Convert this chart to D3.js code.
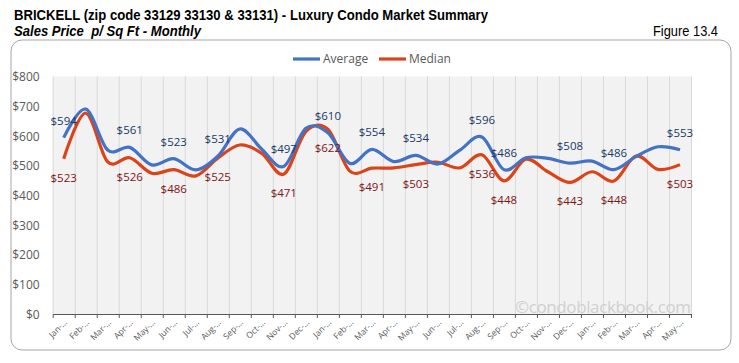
<!doctype html>
<html>
<head>
<meta charset="UTF-8">
<script src="https://cdn.jsdelivr.net/npm/d3@7"></script>
<style>
    body { margin:0; background:#fff; }
    .title { font-family: "Liberation Sans Narrow", "Arial Narrow", "Liberation Sans", sans-serif; fill:#000; white-space: pre; }
    .tick-label { font-family: "Open Sans", "Noto Sans", sans-serif; fill:#595959; }
    .val { font-family: "Open Sans", "Noto Sans", sans-serif; font-size: 11.5px; text-anchor: middle; }
</style>
</head>
<body>
<script>
    // months along the x axis (Jan .. May of the third year)
    var months = ["Jan","Feb","Mar","Apr","May","Jun","Jul","Aug","Sep","Oct","Nov","Dec",
                  "Jan","Feb","Mar","Apr","May","Jun","Jul","Aug","Sep","Oct","Nov","Dec",
                  "Jan","Feb","Mar","Apr","May"];
    var average = [594, 690, 552, 561, 502, 523, 485, 531, 623, 555, 497, 625, 610, 507, 554,
                   513, 534, 505, 552, 596, 486, 526, 524, 508, 515, 486, 530, 563, 553];
    var median  = [523, 676, 512, 526, 474, 486, 465, 525, 569, 541, 471, 614, 622, 481, 491,
                   492, 503, 511, 492, 536, 448, 521, 479, 443, 479, 448, 532, 487, 503];
    // months that carry a value label
    var labelled = [0, 3, 5, 7, 10, 12, 14, 16, 19, 20, 23, 25, 28];
    var yTicks = [0, 100, 200, 300, 400, 500, 600, 700, 800];

    var W = 739, H = 363;
    var plot = { left: 52.7, right: 691, top: 76.4, bottom: 314 };

    var svg = d3.select("body").append("svg")
        .attr("width", W).attr("height", H);

    // titles (squeezed to the narrow widths of the original)
    svg.append("text").attr("class", "title")
        .attr("x", 14).attr("y", 20)
        .attr("textLength", 474).attr("lengthAdjust", "spacingAndGlyphs")
        .style("font-size", "15px").style("font-weight", "bold")
        .text("BRICKELL (zip code 33129 33130 & 33131) - Luxury Condo Market Summary");
    svg.append("text").attr("class", "title")
        .attr("x", 14).attr("y", 36)
        .attr("textLength", 187).attr("lengthAdjust", "spacingAndGlyphs")
        .style("font-size", "15px").style("font-weight", "bold").style("font-style", "italic")
        .text("Sales Price  p/ Sq Ft - Monthly");
    svg.append("text").attr("class", "title")
        .attr("x", 653).attr("y", 36)
        .attr("textLength", 65).attr("lengthAdjust", "spacingAndGlyphs")
        .style("font-size", "14.5px")
        .text("Figure 13.4");

    // chart frame
    svg.append("rect")
        .attr("x", 11).attr("y", 40).attr("width", 720).attr("height", 310)
        .attr("rx", 11).attr("ry", 11)
        .style("fill", "#fff").style("stroke", "#a6a6a6").style("stroke-width", 1);

    var n = months.length;
    var x = d3.scaleBand().domain(d3.range(n)).range([plot.left, plot.right]);
    var xb = d3.scaleLinear().domain([0, n]).range([plot.left, plot.right]);
    var y = d3.scaleLinear().domain([0, 800]).range([plot.bottom, plot.top]);
    var cx = function (i) { return x(i) + x.bandwidth() / 2; };

    // plot background
    svg.append("rect")
        .attr("x", plot.left).attr("y", plot.top)
        .attr("width", plot.right - plot.left).attr("height", plot.bottom - plot.top)
        .style("fill", "#f2f2f2");

    // vertical grid lines between categories
    svg.append("g")
        .attr("transform", "translate(0," + plot.bottom + ")")
        .call(d3.axisBottom(xb).tickValues(d3.range(n + 1)).tickSize(-(plot.bottom - plot.top)).tickFormat(""))
        .call(function (g) { g.select(".domain").remove(); })
        .call(function (g) { g.selectAll("line").style("stroke", "#d9d9d9"); });

    // x axis line with small ticks
    svg.append("g")
        .attr("transform", "translate(0," + plot.bottom + ")")
        .call(d3.axisBottom(xb).tickValues(d3.range(n + 1)).tickSize(4).tickSizeOuter(0).tickFormat(""))
        .call(function (g) { g.selectAll("line, path").style("stroke", "#595959"); });

    // x labels (rotated, truncated like the original)
    svg.append("g").selectAll("text")
        .data(months)
        .enter().append("text")
        .attr("class", "tick-label")
        .attr("transform", function (d, i) { return "translate(" + (cx(i) + 4) + "," + (plot.bottom + 9) + ") rotate(-45)"; })
        .style("font-size", "8.5px")
        .style("text-anchor", "end")
        .text(function (d) { return d + "-\u2026"; });

    // y axis labels
    svg.append("g")
        .attr("transform", "translate(" + plot.left + ",0)")
        .call(d3.axisLeft(y).tickValues(yTicks).tickSize(0).tickPadding(13)
            .tickFormat(function (d) { return "$" + d; }))
        .call(function (g) { g.select(".domain").remove(); })
        .call(function (g) {
            g.selectAll("text").attr("class", "tick-label")
                .style("font-size", "12px").attr("dy", "0.35em");
        });

    // watermark
    svg.append("text")
        .attr("x", 515).attr("y", 313)
        .attr("textLength", 176)
        .style("font-family", "\"Open Sans\", \"Noto Sans\", sans-serif")
        .style("font-size", "17px").style("fill", "#d0d0d0")
        .text("\u00A9condoblackbook.com");

    var line = d3.line()
        .x(function (d, i) { return cx(i); })
        .y(function (d) { return y(d); })
        .curve(d3.curveCardinal.tension(0));

    svg.append("path").datum(median)
        .attr("d", line)
        .style("fill", "none").style("stroke", "#dc4319").style("stroke-width", 3.2)
        .style("stroke-linejoin", "round");
    svg.append("path").datum(average)
        .attr("d", line)
        .style("fill", "none").style("stroke", "#4472c4").style("stroke-width", 3.2)
        .style("stroke-linejoin", "round");

    // value labels
    svg.append("g").selectAll("text")
        .data(labelled)
        .enter().append("text")
        .attr("class", "val")
        .attr("x", function (i) { return cx(i); })
        .attr("y", function (i) { return y(average[i]) - 13; })
        .style("fill", "#203864")
        .text(function (i) { return "$" + average[i]; });
    svg.append("g").selectAll("text")
        .data(labelled)
        .enter().append("text")
        .attr("class", "val")
        .attr("x", function (i) { return cx(i); })
        .attr("y", function (i) { return y(median[i]) + 23; })
        .style("fill", "#7f1414")
        .text(function (i) { return "$" + median[i]; });

    // legend
    var legend = [{ name: "Average", color: "#4472c4", x: 293 }, { name: "Median", color: "#dc4319", x: 379 }];
    var lg = svg.append("g").selectAll("g")
        .data(legend)
        .enter().append("g")
        .attr("transform", function (d) { return "translate(" + d.x + ",59)"; });
    lg.append("line")
        .attr("x1", 0).attr("x2", 27)
        .style("stroke", function (d) { return d.color; }).style("stroke-width", 3.2);
    lg.append("text")
        .attr("class", "tick-label")
        .attr("x", 30).attr("dy", "0.35em")
        .style("font-size", "12px")
        .text(function (d) { return d.name; });
</script>
</body>
</html>
